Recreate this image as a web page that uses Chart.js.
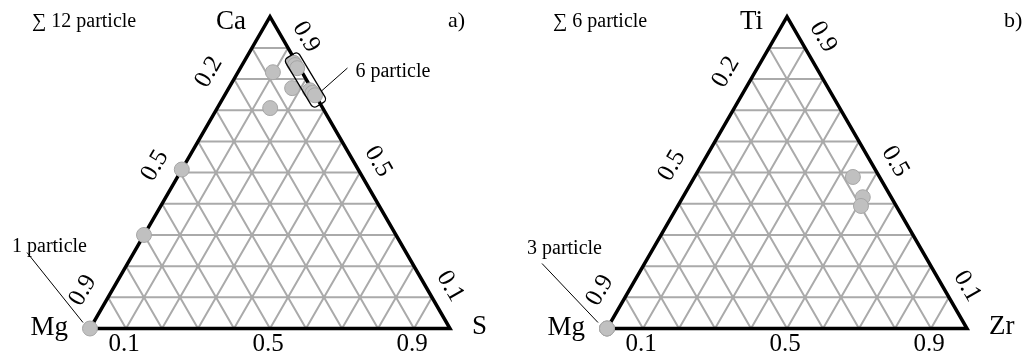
<!DOCTYPE html>
<html>
<head>
<meta charset="utf-8">
<title>Ternary particle plots</title>
<script src="https://cdn.jsdelivr.net/npm/chart.js@4.4.0/dist/chart.umd.min.js"></script>
<style>
  html, body { margin: 0; padding: 0; background: #fff; }
  #wrap { position: relative; width: 1029px; height: 362px; overflow: hidden; }
  #wrap canvas { position: absolute; top: 0; }
</style>
</head>
<body>
<div id="wrap">
  <canvas id="ternA" width="514" height="362" style="left:0"></canvas>
  <canvas id="ternB" width="515" height="362" style="left:514px"></canvas>
</div>
<script>
// ---- data ----
// panel a): Mg – S – Ca  (Mg = 1 - Ca - S)
const verticesA = ['Mg', 'S', 'Ca'];          // bottom-left, bottom-right, apex
const caValues = [0.00, 0.30, 0.51, 0.822, 0.771, 0.707, 0.852, 0.845, 0.835, 0.764, 0.756, 0.748];
const sValues  = [0.00, 0.00, 0.00, 0.097, 0.176, 0.147, 0.140, 0.147, 0.158, 0.229, 0.240, 0.251];

// panel b): Mg – Zr – Ti  (Mg = 1 - Ti - Zr)
const verticesB = ['Mg', 'Zr', 'Ti'];
const tiValues = [0.00, 0.00, 0.00, 0.486, 0.421, 0.393];
const zrValues = [0.00, 0.00, 0.00, 0.440, 0.500, 0.509];

// edge tick labels
const leftEdgeTicks  = ['0.2', '0.5', '0.9'];   // Mg share along Mg–apex edge
const rightEdgeTicks = ['0.9', '0.5', '0.1'];   // apex share along apex–right edge
const baseTicks      = ['0.1', '0.5', '0.9'];   // right-vertex share along base

const GRID_STEPS = 10;
const PX_PER_UNIT = 360;
const SERIF = "'Liberation Serif', 'Times New Roman', serif";
const SQ3 = Math.sqrt(3) / 2;

// ternary (apex share, right share) -> cartesian in unit triangle
function toXY(top, right) {
  return { x: right + top / 2, y: top * SQ3 };
}

function gridLines() {
  const pts = [];
  for (let i = 1; i < GRID_STEPS; i++) {
    const c = i / GRID_STEPS;
    // constant apex share
    pts.push(toXY(c, 0), toXY(c, 1 - c), { x: null, y: null });
    // constant right share
    pts.push(toXY(0, c), toXY(1 - c, c), { x: null, y: null });
    // constant left share
    pts.push(toXY(0, 1 - c), toXY(1 - c, 0), { x: null, y: null });
  }
  return pts;
}

function drawCallout(ctx, c, x0, y0) {
  ctx.beginPath();
  ctx.moveTo(x0 + c.from[0], y0 + c.from[1]);
  ctx.lineTo(x0 + c.to[0], y0 + c.to[1]);
  ctx.lineWidth = 1;
  ctx.strokeStyle = '#000';
  ctx.stroke();
  ctx.font = `20px ${SERIF}`;
  ctx.textAlign = 'left';
  ctx.textBaseline = 'middle';
  ctx.fillText(c.text, x0 + c.textAt[0], y0 + c.textAt[1]);
}

const ternaryText = {
  id: 'ternaryText',
  afterDatasetsDraw(chart, args, opts) {
    const ctx = chart.ctx;
    const sx = chart.scales.x, sy = chart.scales.y;
    const px = (top, right) => {
      const p = toXY(top, right);
      return [sx.getPixelForValue(p.x), sy.getPixelForValue(p.y)];
    };
    ctx.save();
    ctx.fillStyle = '#000';

    // vertex names
    ctx.font = `27px ${SERIF}`;
    ctx.textBaseline = 'middle';
    let [x, y] = px(0, 0);
    ctx.textAlign = 'right';
    ctx.fillText(opts.vertices[0], x - 22, y - 1);
    [x, y] = px(0, 1);
    ctx.textAlign = 'left';
    ctx.fillText(opts.vertices[1], x + 22, y - 2);
    [x, y] = px(1, 0);
    ctx.textAlign = 'right';
    ctx.fillText(opts.vertices[2], x - 24, y + 5);

    // edge ticks
    ctx.font = `25px ${SERIF}`;
    ctx.textAlign = 'center';
    const tick = (text, p, dx, dy, deg) => {
      ctx.save();
      ctx.translate(p[0] + dx, p[1] + dy);
      ctx.rotate(deg * Math.PI / 180);
      ctx.fillText(text, 0, 0);
      ctx.restore();
    };
    leftEdgeTicks.forEach(t => tick(t, px(1 - parseFloat(t), 0), -25, -7, -60));
    rightEdgeTicks.forEach(t => { const v = parseFloat(t); tick(t, px(v, 1 - v), 18, -11, 60); });
    baseTicks.forEach(t => tick(t, px(0, parseFloat(t)), -2, 16, 0));

    // totals and panel letter
    ctx.font = `20px ${SERIF}`;
    ctx.textAlign = 'left';
    ctx.fillText(opts.total.text, opts.total.at[0], opts.total.at[1]);
    ctx.font = `22px ${SERIF}`;
    ctx.fillText(opts.letter.text, opts.letter.at[0], opts.letter.at[1]);

    // callouts anchored on data locations
    opts.callouts.forEach(c => {
      const [cx, cy] = px(c.top, c.right);
      if (c.box) {
        ctx.save();
        ctx.translate(cx, cy);
        ctx.rotate(c.box.angle * Math.PI / 180);
        ctx.beginPath();
        ctx.roundRect(-c.box.len / 2, -c.box.wid / 2, c.box.len, c.box.wid, 4);
        ctx.lineWidth = 1.3;
        ctx.strokeStyle = '#000';
        ctx.stroke();
        ctx.restore();
      }
      drawCallout(ctx, c, cx, cy);
    });
    ctx.restore();
  }
};

function makeTernary(canvasId, tops, rights, origin, text) {
  const el = document.getElementById(canvasId);
  const W = el.width, H = el.height;
  const points = tops.map((t, i) => toXY(t, rights[i]));
  const outline = [toXY(0, 0), toXY(0, 1), toXY(1, 0), toXY(0, 0)];

  return new Chart(el, {
    type: 'scatter',
    data: {
      datasets: [
        {
          label: 'particles',
          data: points,
          pointRadius: 7.5,
          pointBackgroundColor: '#c0c0c0',
          pointBorderColor: '#a6a6a6',
          pointBorderWidth: 1,
          order: 0,
          clip: false
        },
        {
          label: 'outline',
          data: outline,
          showLine: true,
          borderColor: '#000',
          borderWidth: 3.5,
          borderJoinStyle: 'miter',
          pointRadius: 0,
          order: 1,
          clip: false
        },
        {
          label: 'grid',
          data: gridLines(),
          showLine: true,
          spanGaps: false,
          borderColor: '#aaaaaa',
          borderWidth: 2,
          pointRadius: 0,
          order: 2,
          clip: false
        }
      ]
    },
    options: {
      responsive: false,
      devicePixelRatio: 1,
      animation: false,
      events: [],
      layout: { padding: 0, autoPadding: false },
      scales: {
        x: {
          type: 'linear', display: false,
          min: -origin[0] / PX_PER_UNIT,
          max: (W - origin[0]) / PX_PER_UNIT
        },
        y: {
          type: 'linear', display: false,
          min: (origin[1] - H) / PX_PER_UNIT,
          max: origin[1] / PX_PER_UNIT
        }
      },
      plugins: {
        legend: { display: false },
        tooltip: { enabled: false },
        ternaryText: text
      }
    },
    plugins: [ternaryText]
  });
}

makeTernary('ternA', caValues, sValues, [90, 328.5], {
  vertices: verticesA,
  total: { text: '\u2211 12 particle', at: [32, 22] },
  letter: { text: 'a)', at: [448, 21] },
  callouts: [
    { top: 0.797, right: 0.200, box: { len: 57, wid: 16, angle: 59 },
      from: [16, 11], to: [42, -12], textAt: [50, -8], text: '6 particle' },
    { top: 0, right: 0, from: [-7, -6], to: [-63, -76], textAt: [-78, -82], text: '1 particle' }
  ]
});

makeTernary('ternB', tiValues, zrValues, [93, 328.5], {
  vertices: verticesB,
  total: { text: '\u2211 6 particle', at: [39, 22] },
  letter: { text: 'b)', at: [490, 21] },
  callouts: [
    { top: 0, right: 0, from: [-9, -6], to: [-65, -65], textAt: [-80, -80], text: '3 particle' }
  ]
});
</script>
</body>
</html>
